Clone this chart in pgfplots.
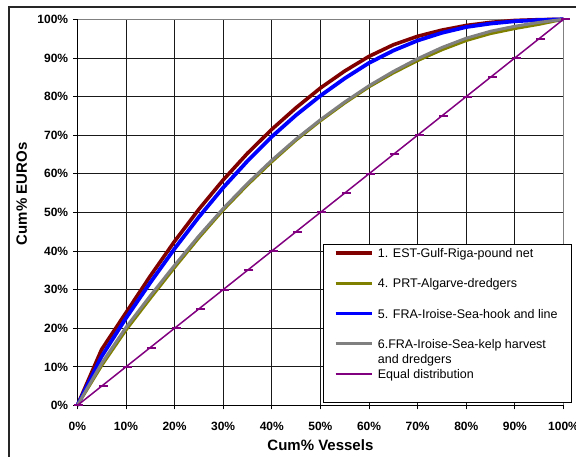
\documentclass[border=0pt]{standalone}
\usepackage{pgfplots}
\pgfplotsset{compat=1.18}
\usepackage{fontspec}
\setmainfont{Liberation Sans}
\definecolor{estred}{HTML}{800000}
\definecolor{prtolive}{HTML}{808000}
\definecolor{frablue}{HTML}{0000FF}
\definecolor{kelpgray}{HTML}{808080}
\definecolor{eqpurple}{HTML}{800080}
\newcommand{\ls}{\rule[-3pt]{0pt}{13pt}}
\begin{document}
\begin{tikzpicture}[x=1pt,y=1pt]
\useasboundingbox (0,0) rectangle (576,457);
\draw[line width=1.2pt, black!85] (9,-1) -- (9,450) -- (577,450);
\begin{axis}[
  at={(77.3pt,51.5pt)}, anchor=south west,
  scale only axis, width=486.2pt, height=386.2pt,
  xmin=0, xmax=100, ymin=0, ymax=100,
  clip=false,
  xtick={0,10,...,100}, ytick={0,10,...,100},
  tick pos=left, tick align=outside,
  major tick length=4pt,
  every tick/.style={black, line width=0.8pt},
  grid=major,
  major grid style={black!90, line width=0.8pt},
  axis line style={kelpgray, line width=1pt},
  /pgf/number format/assume math mode=true,
  xticklabel={\pgfmathprintnumber{\tick}\%},
  yticklabel={\pgfmathprintnumber{\tick}\%},
  ticklabel style={font=\fontsize{12}{14}\selectfont\bfseries, inner sep=0pt},
  yticklabel style={anchor=east, xshift=-5pt},
  xticklabel style={anchor=north, yshift=-12pt},
  xlabel={Cum\% Vessels},
  ylabel={Cum\% EUROs},
  label style={font=\fontsize{15}{17}\selectfont\bfseries},
  xlabel style={at={(axis description cs:0.5,-0.1023)}, anchor=center},
  ylabel style={at={(axis description cs:-0.1144,0.548)}, anchor=center},
  legend cell align=left,
  legend style={at={(rel axis cs:0.5047,0.419)}, anchor=north west,
    draw=black, line width=0.8pt, fill=white,
    inner xsep=10.6pt, inner ysep=1.7pt,
    cells={anchor=base west, inner sep=0pt},
    column sep=2.4pt, row sep=-0.4pt,
    font=\fontsize{12.5}{14}\selectfont},
  legend image code/.code={%
    \draw[mark repeat=2,mark phase=2] plot coordinates {(0pt,4.6pt) (18pt,4.6pt) (36pt,4.6pt)};},
]
\draw[black, line width=1pt] (rel axis cs:0,1) -- (rel axis cs:0,0) -- (rel axis cs:1,0);

\addplot[estred, line width=3.6pt, line join=round] coordinates {
(0,0) (5,14.5) (10,24) (15,33.5) (20,42.5) (25,50.8) (30,58.4) (35,65.3) (40,71.5) (45,77.1) (50,82.2)
(55,86.6) (60,90.4) (65,93.4) (70,95.6) (75,97.2) (80,98.4) (85,99.2) (90,99.7) (95,99.9) (100,100)};
\addlegendentry{\ls\makebox[181pt][l]{1. EST-Gulf-Riga-pound net}}
\addlegendimage{empty legend}
\addlegendentry{\ls}

\addplot[prtolive, line width=3pt, line join=round] coordinates {
(0,0) (5,10.3) (10,19.5) (15,27.7) (20,35.7) (25,43.4) (30,50.6) (35,57.1) (40,63.1) (45,68.7) (50,73.7)
(55,78.3) (60,82.5) (65,86.1) (70,89.3) (75,92.1) (80,94.5) (85,96.3) (90,97.6) (95,98.7) (100,100)};
\addlegendentry{\ls 4. PRT-Algarve-dredgers}
\addlegendimage{empty legend}
\addlegendentry{\ls}

\addplot[frablue, line width=3.8pt, line join=round] coordinates {
(0,0) (5,12.7) (10,22.6) (15,31.8) (20,40.6) (25,48.8) (30,56.4) (35,63.3) (40,69.6) (45,75.2) (50,80.2)
(55,84.7) (60,88.7) (65,91.9) (70,94.5) (75,96.5) (80,98) (85,98.9) (90,99.5) (95,99.8) (100,100)};
\addlegendentry{\ls 5. FRA-Iroise-Sea-hook and line}
\addlegendimage{empty legend}
\addlegendentry{\ls}

\addplot[kelpgray, line width=3pt, line join=round] coordinates {
(0,0) (5,10.9) (10,20.2) (15,28.4) (20,36.3) (25,43.9) (30,51) (35,57.5) (40,63.5) (45,69) (50,74)
(55,78.6) (60,82.8) (65,86.5) (70,89.8) (75,92.7) (80,95.1) (85,96.9) (90,98.2) (95,99.2) (100,100)};
\addlegendentry{\ls 6.FRA-Iroise-Sea-kelp harvest}
\addlegendimage{empty legend}
\addlegendentry{\ls and dredgers}

\addplot[eqpurple, line width=1.5pt, mark=-, mark size=4.5pt,
  mark options={solid, line width=2pt, xshift=1.5pt}] coordinates {
(0,0) (5,5) (10,10) (15,15) (20,20) (25,25) (30,30) (35,35) (40,40) (45,45) (50,50)
(55,55) (60,60) (65,65) (70,70) (75,75) (80,80) (85,85) (90,90) (95,95) (100,100)};
\addlegendentry{\ls Equal distribution}
\addlegendimage{empty legend}
\addlegendentry{\rule[-3pt]{0pt}{17pt}}
\end{axis}
\end{tikzpicture}
\end{document}
